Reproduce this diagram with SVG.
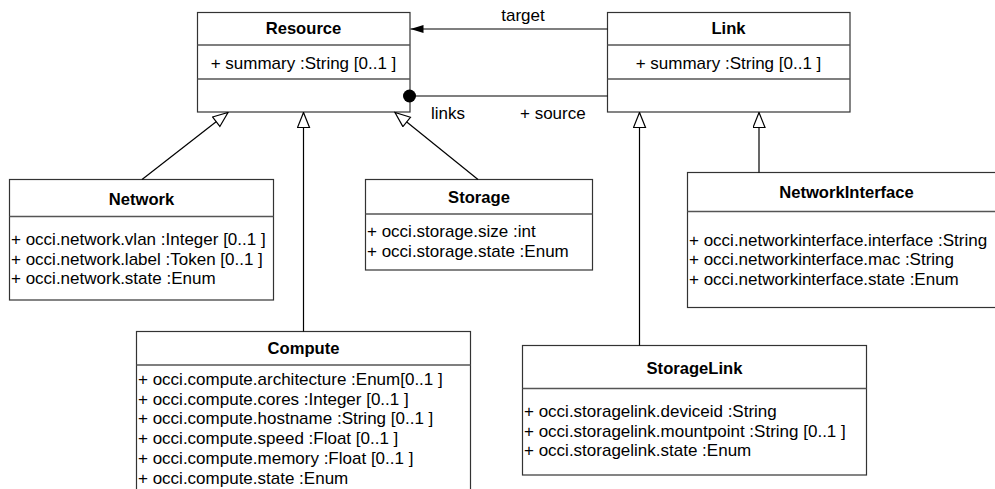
<svg xmlns="http://www.w3.org/2000/svg" width="995" height="489" viewBox="0 0 995 489">
<style>
.box{fill:#fff;stroke:#333;stroke-width:1.2}
.sep{stroke:#555;stroke-width:1.5;fill:none}
.t{font-family:"Liberation Sans",Arial,sans-serif;font-size:17px;fill:#000}
.b{font-weight:bold;text-anchor:middle;font-size:16.6px}
.c{text-anchor:middle}
.ln{stroke:#000;stroke-width:1.2;fill:none}
</style>
<defs>
<marker id="gen" markerUnits="userSpaceOnUse" markerWidth="17" markerHeight="14" refX="16" refY="6.5" orient="auto">
<path d="M1,0.5 L16,6.5 L1,12.5 Z" fill="#fff" stroke="#000" stroke-width="1.2"/>
</marker>
<marker id="arr" markerUnits="userSpaceOnUse" markerWidth="14" markerHeight="10" refX="13" refY="4.5" orient="auto">
<path d="M0,0.5 L13,4.5 L0,8.5 Z" fill="#000"/>
</marker>
</defs>
<g id="Resource">
<rect class="box" x="197.5" y="12.5" width="212.5" height="99.5"/>
<line class="sep" x1="197.5" y1="45" x2="410" y2="45"/>
<line class="sep" x1="197.5" y1="79" x2="410" y2="79"/>
<text class="t b" x="303.5" y="34">Resource</text>
<text class="t c" x="303.5" y="69">+ summary :String [0..1 ]</text>
</g>
<g id="Link">
<rect class="box" x="607.5" y="12.5" width="242.5" height="99.5"/>
<line class="sep" x1="607.5" y1="45" x2="850" y2="45"/>
<line class="sep" x1="607.5" y1="79" x2="850" y2="79"/>
<text class="t b" x="728.5" y="34">Link</text>
<text class="t c" x="728.5" y="69">+ summary :String [0..1 ]</text>
</g>
<g id="Network">
<rect class="box" x="9.5" y="179.5" width="264" height="120.5"/>
<line class="sep" x1="9.5" y1="216.5" x2="273.5" y2="216.5"/>
<text class="t b" x="141.5" y="205">Network</text>
<text class="t" x="11" y="245">+ occi.network.vlan :Integer [0..1 ]</text>
<text class="t" x="11" y="264.5">+ occi.network.label :Token [0..1 ]</text>
<text class="t" x="11" y="284">+ occi.network.state :Enum</text>
</g>
<g id="Storage">
<rect class="box" x="365.5" y="179.5" width="227" height="90.5"/>
<line class="sep" x1="365.5" y1="214" x2="592.5" y2="214"/>
<text class="t b" x="479" y="203">Storage</text>
<text class="t" x="367" y="237">+ occi.storage.size :int</text>
<text class="t" x="367" y="256.5">+ occi.storage.state :Enum</text>
</g>
<g id="Compute">
<rect class="box" x="136.5" y="331.5" width="334" height="170"/>
<line class="sep" x1="136.5" y1="365" x2="470.5" y2="365"/>
<text class="t b" x="303.5" y="354">Compute</text>
<text class="t" x="138" y="385">+ occi.compute.architecture :Enum[0..1 ]</text>
<text class="t" x="138" y="404.7">+ occi.compute.cores :Integer [0..1 ]</text>
<text class="t" x="138" y="424.4">+ occi.compute.hostname :String [0..1 ]</text>
<text class="t" x="138" y="444.1">+ occi.compute.speed :Float [0..1 ]</text>
<text class="t" x="138" y="463.8">+ occi.compute.memory :Float [0..1 ]</text>
<text class="t" x="138" y="483.5">+ occi.compute.state :Enum</text>
</g>
<g id="StorageLink">
<rect class="box" x="522.5" y="345.5" width="344" height="129.5"/>
<line class="sep" x1="522.5" y1="388.5" x2="866.5" y2="388.5"/>
<text class="t b" x="694.5" y="374">StorageLink</text>
<text class="t" x="524" y="417">+ occi.storagelink.deviceid :String</text>
<text class="t" x="524" y="436.7">+ occi.storagelink.mountpoint :String [0..1 ]</text>
<text class="t" x="524" y="456.4">+ occi.storagelink.state :Enum</text>
</g>
<g id="NetworkInterface">
<rect class="box" x="687.5" y="172.5" width="320" height="135"/>
<line class="sep" x1="687.5" y1="211.5" x2="1000" y2="211.5"/>
<text class="t b" x="846.5" y="198">NetworkInterface</text>
<text class="t" x="689" y="245.5">+ occi.networkinterface.interface :String</text>
<text class="t" x="689" y="265">+ occi.networkinterface.mac :String</text>
<text class="t" x="689" y="284.5">+ occi.networkinterface.state :Enum</text>
</g>
<g id="connectors">
<line class="ln" x1="607.5" y1="29" x2="410.5" y2="29" marker-end="url(#arr)"/>
<text class="t c" x="523" y="21">target</text>
<line class="ln" x1="607.5" y1="96" x2="412" y2="96"/>
<circle cx="409.5" cy="96" r="6.5" fill="#000"/>
<text class="t" x="431" y="119">links</text>
<text class="t" x="520" y="119">+ source</text>
<line class="ln" x1="142" y1="179.5" x2="228" y2="112.5" marker-end="url(#gen)"/>
<line class="ln" x1="303.5" y1="331.5" x2="303.5" y2="112.5" marker-end="url(#gen)"/>
<line class="ln" x1="478" y1="179.5" x2="395" y2="112.5" marker-end="url(#gen)"/>
<line class="ln" x1="639.5" y1="345.5" x2="639.5" y2="112.5" marker-end="url(#gen)"/>
<line class="ln" x1="759" y1="172.5" x2="759" y2="112.5" marker-end="url(#gen)"/>
</g>
</svg>
